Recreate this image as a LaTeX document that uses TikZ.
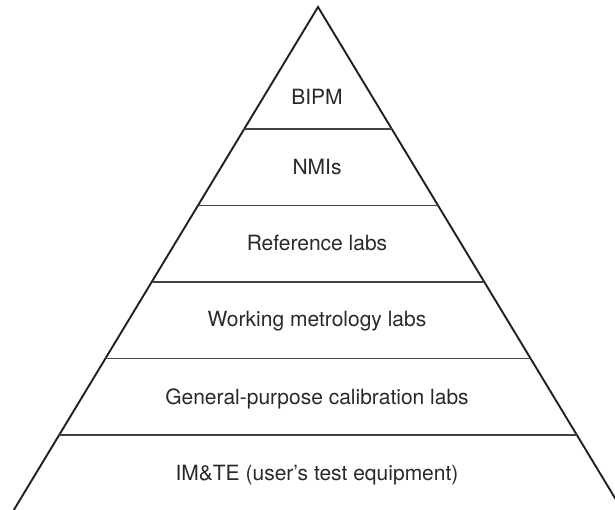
\documentclass[tikz,border=0pt]{standalone}
\usepackage{fontspec}
\setmainfont{TeX Gyre Heros}
\usetikzlibrary{calc}
\definecolor{inkline}{HTML}{231F20}
\definecolor{inktext}{HTML}{2B2829}
\tikzset{
  side/.style={draw=inkline, line width=1.9pt, line join=miter},
  tier/.style={draw=inkline!85, line width=1.3pt},
  tierlabel/.style={anchor=base, text=inktext, font=\fontsize{21}{25}\selectfont, inner sep=0pt}
}
\begin{document}
\begin{tikzpicture}[x=1pt, y=-1pt]
  \useasboundingbox (0,0) rectangle (615,510);
  \clip (0,0) rectangle (615,510);

  % pyramid outline
  \coordinate (apex) at (318,7);
  \coordinate (bl) at (13.8,510);
  \coordinate (br) at (622.2,510);
  \draw[side] (bl) -- (apex) -- (br);

  % tier boundaries, placed along the sides
  \foreach \t [count=\i] in {0.2425,0.3946,0.5467,0.6988,0.8509} {
    \coordinate (l\i) at ($(apex)!\t!(bl)$);
    \coordinate (r\i) at ($(apex)!\t!(br)$);
    \draw[tier] (l\i) -- (r\i);
  }

  % tier labels
  \node[tierlabel] (bipm) at (317,104.5) {BIPM};
  \node[tierlabel] (nmi)  at (317,175)   {NMIs};
  \node[tierlabel] (ref)  at (317,251)   {Reference labs};
  \node[tierlabel] (work) at (317,326.5) {Working metrology labs};
  \node[tierlabel] (gen)  at (317,404)   {General-purpose calibration labs};
  \node[tierlabel] (imte) at (317,480)   {IM\&TE (user’s test equipment)};
\end{tikzpicture}
\end{document}
